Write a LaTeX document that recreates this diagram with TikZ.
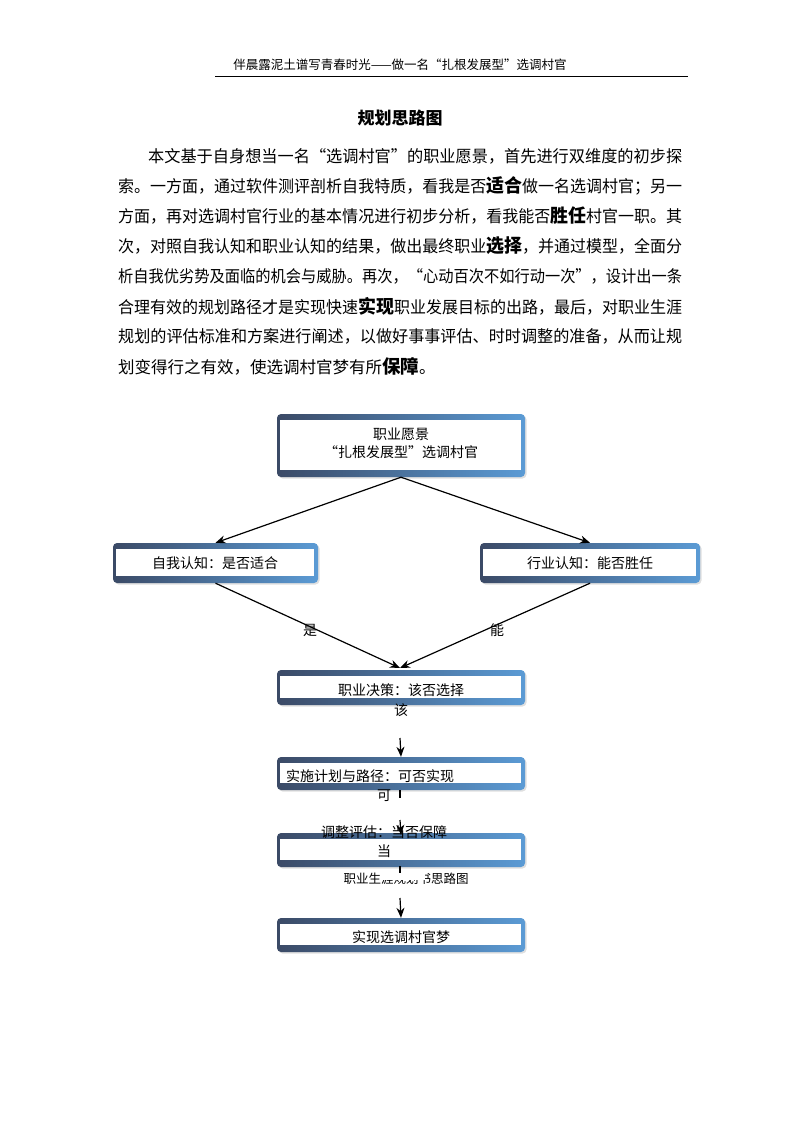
\documentclass[tikz,border=0pt]{standalone}
\usepackage{fontspec}
\setmainfont{Noto Sans CJK SC}
\usetikzlibrary{shadows,arrows.meta}
\definecolor{boxdark}{HTML}{3B4A66}
\definecolor{boxlight}{HTML}{5B9BD5}
\begin{document}
\begin{tikzpicture}[x=1pt,y=-1pt,
  frame/.style={rectangle,rounded corners=4pt,left color=boxdark,right color=boxlight,draw=none,
    drop shadow={opacity=0.25,shadow xshift=1.5pt,shadow yshift=-1.5pt}},
  lbl/.style={font=\fontsize{14}{16}\selectfont,inner sep=0pt},
  para/.style={font=\fontsize{16.5}{20}\selectfont,anchor=west,inner sep=0pt},
  arr/.style={-{Stealth[length=10pt,width=8pt]},line width=1.2pt}]
\useasboundingbox (0,0) rectangle (800,1132);
\node[font=\fontsize{12.5}{14}\selectfont] (hdr) at (400,65) {伴晨露泥土谱写青春时光——做一名“扎根发展型”选调村官};
\draw[line width=0.8pt] (215,76) -- (688,76);
\node[font=\bfseries\fontsize{17}{20}\selectfont] (ttl) at (400,118) {规划思路图};
\newcommand\bw[1]{{\bfseries\fontsize{18.5}{20}\selectfont #1}}
\newcommand\fitline[2]{\resizebox{#1}{\height}{#2}}
\node[para] (p1) at (148,156) {\fitline{534pt}{本文基于自身想当一名“选调村官”的职业愿景，首先进行双维度的初步探}};
\node[para] (p2) at (118,186) {\fitline{564pt}{索。一方面，通过软件测评剖析自我特质，看我是否\bw{适合}做一名选调村官；另一}};
\node[para] (p3) at (118,216) {\fitline{564pt}{方面，再对选调村官行业的基本情况进行初步分析，看我能否\bw{胜任}村官一职。其}};
\node[para] (p4) at (118,246) {\fitline{564pt}{次，对照自我认知和职业认知的结果，做出最终职业\bw{选择}，并通过模型，全面分}};
\node[para] (p5) at (118,276) {\fitline{564pt}{析自我优劣势及面临的机会与威胁。再次，“心动百次不如行动一次”，设计出一条}};
\node[para] (p6) at (118,306) {\fitline{564pt}{合理有效的规划路径才是实现快速\bw{实现}职业发展目标的出路，最后，对职业生涯}};
\node[para] (p7) at (118,336) {\fitline{564pt}{规划的评估标准和方案进行阐述，以做好事事评估、时时调整的准备，从而让规}};
\node[para] (p8) at (118,366) {划变得行之有效，使选调村官梦有所\bw{保障}。};
% boxes
\node[frame,minimum width=248pt,minimum height=63pt] (top) at (401,445.5) {};
\node[frame,minimum width=205pt,minimum height=40pt] (lft) at (215.5,563) {};
\node[frame,minimum width=220pt,minimum height=40pt] (rgt) at (590,563) {};
\node[frame,minimum width=248pt,minimum height=35pt] (dec) at (401,687.5) {};
\node[frame,minimum width=248pt,minimum height=33pt] (imp) at (401,773.5) {};
\node[frame,minimum width=248pt,minimum height=34pt] (adj) at (401,850) {};
\node[frame,minimum width=248pt,minimum height=34pt] (fin) at (401,935) {};
\foreach \b in {top,lft,rgt,dec,imp,adj,fin}{
  \fill[white] ([shift={(3,6)}]\b.north west) rectangle ([shift={(-4,-7)}]\b.south east);}
% texts
\node[lbl,align=center] (tt) at (401,443) {职业愿景\\[2pt]“扎根发展型”选调村官};
\node[lbl] (lt) at (215,563) {自我认知：是否适合};
\node[lbl] (rt) at (590,563) {行业认知：能否胜任};
\node[lbl] (dt) at (401,690) {职业决策：该否选择};
\node[lbl] (dt2) at (401,710) {该};
\node[lbl] (it) at (370,776) {实施计划与路径：可否实现};
\node[lbl] (it2) at (384,796) {可};
\node[lbl] (at) at (384,832) {调整评估：当否保障};
\node[lbl] (at2) at (384,851) {当};
\node[lbl] (ft) at (401,937) {实现选调村官梦};
\node[lbl,font=\fontsize{12.5}{14}\selectfont] (cap) at (406,879) {职业生涯规划书思路图};
\fill[white] (380,871) rectangle (425,880);
% connectors
\draw[arr] (top.south) -- (lft.north);
\draw[arr] (top.south) -- (rgt.north);
\coordinate (dm) at (400,668);
\draw[arr] (lft.south) -- (dm);
\draw[arr] (rgt.south) -- (dm);
\node[lbl] (yes) at (310,630) {是};
\node[lbl] (can) at (497,630) {能};
\coordinate (a1) at (400,738); \draw[arr] (a1) -- (imp.north);
\coordinate (a2) at (400,820); \draw[arr] (a2) -- ([yshift=-2]adj.north);
\coordinate (a3) at (400,898); \draw[arr] (a3) -- (fin.north);
\draw[line width=1.2pt] (400,790) -- (400,798);
\draw[line width=1.2pt] (400,866) -- (400,873);
\end{tikzpicture}
\end{document}
